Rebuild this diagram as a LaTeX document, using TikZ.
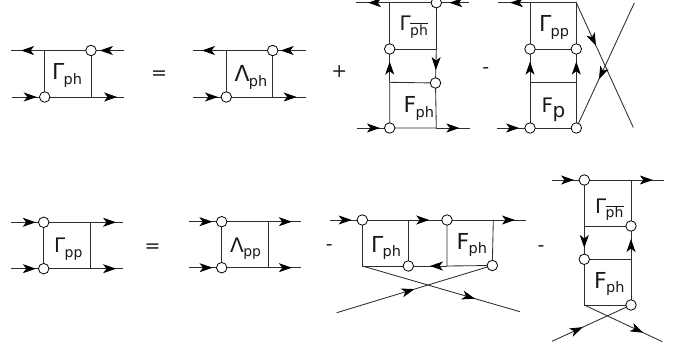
\documentclass[tikz,border=0pt]{standalone}
\usepackage{fontspec}
\setmainfont{DejaVu Sans}
\usetikzlibrary{arrows.meta,decorations.markings,backgrounds}
\newcommand{\gsym}[3][14]{{\fontsize{20}{20}\selectfont #2}\kern-0.6pt\raisebox{-4.5pt}{\fontsize{#1}{#1}\selectfont #3}}
\newcommand{\gbig}[2]{{\fontsize{22}{22}\selectfont #1}\kern-0.8pt\raisebox{-4.5pt}{\fontsize{14.5}{14.5}\selectfont #2}}
\newcommand{\phbar}{$\overline{\hbox{\fontsize{14}{14}\selectfont ph}}$}
\tikzset{
  ln/.style={draw=black!82,line width=0.85pt},
  marrow/.style={postaction={decorate},decoration={markings,mark=at position #1 with {\arrow[black]{Stealth[length=13pt,width=9pt,inset=3.5pt]}}}},
  vtx/.style={circle,draw=black,fill=white,line width=0.8pt,minimum size=10.5pt,inner sep=0pt},
  lab/.style={anchor=base west,inner sep=0pt,text=black!90},
  sgn/.style={inner sep=0pt,font=\fontsize{19}{19}\selectfont,text=black!85}
}
\begin{document}
\begin{tikzpicture}[x=1pt,y=-1pt]
\useasboundingbox (0,0) rectangle (696,350);
% --- vertices
\node[vtx] (a1) at (91,50.5) {};
\node[vtx] (a2) at (44.7,97) {};
\node[vtx] (b1) at (272.7,50.5) {};
\node[vtx] (b2) at (226.3,97) {};
\node[vtx] (c1) at (436.3,2.7) {};
\node[vtx] (c2) at (389.7,49) {};
\node[vtx] (c3) at (435.5,83) {};
\node[vtx] (c4) at (389.7,128) {};
\node[vtx] (d1) at (530,49) {};
\node[vtx] (d2) at (576.3,49) {};
\node[vtx] (d3) at (530,128) {};
\node[vtx] (d4) at (576.3,128) {};
\node[vtx] (e1) at (43.7,222.3) {};
\node[vtx] (e2) at (43.7,268.7) {};
\node[vtx] (f1) at (221.7,221.7) {};
\node[vtx] (f2) at (221.7,267.7) {};
\node[vtx] (g1) at (362.3,220) {};
\node[vtx] (g2) at (447,220) {};
\node[vtx] (g3) at (408.3,266) {};
\node[vtx] (g4) at (492.3,265.5) {};
\node[vtx] (h1) at (584.3,180) {};
\node[vtx] (h2) at (631,226) {};
\node[vtx] (h3) at (584.3,259.3) {};
\node[vtx] (h4) at (631,305) {};
% --- corners and free ends
\coordinate (a3) at (44.7,50.5); \coordinate (a4) at (91,97);
\coordinate (aL1) at (11,50.5); \coordinate (aR1) at (124,50.5);
\coordinate (aL2) at (11.5,97); \coordinate (aR2) at (124,97);
\coordinate (b3) at (226.3,50.5); \coordinate (b4) at (272.7,97);
\coordinate (bL1) at (193,50.5); \coordinate (bR1) at (306,50.5);
\coordinate (bL2) at (193,97); \coordinate (bR2) at (306,97);
\coordinate (c5) at (389.7,2.7); \coordinate (c6) at (436.3,49);
\coordinate (c7) at (389.7,82.3); \coordinate (c8) at (436.3,128);
\coordinate (cL1) at (356,2.7); \coordinate (cR1) at (469,2.7);
\coordinate (cL2) at (357,128); \coordinate (cR2) at (469.7,128);
\coordinate (d5) at (530,2.7); \coordinate (d6) at (576.3,2.7);
\coordinate (d7) at (530,82.3); \coordinate (d8) at (576.3,82.3);
\coordinate (dL1) at (498,2.7); \coordinate (dL2) at (497,128);
\coordinate (dX1) at (633.3,127.5); \coordinate (dX2) at (634.3,3);
\coordinate (e3) at (90,222.3); \coordinate (e4) at (90,268.7);
\coordinate (eL1) at (10.5,222.3); \coordinate (eL2) at (11,268.7);
\coordinate (eR1) at (123,222.3); \coordinate (eR2) at (123,268.7);
\coordinate (f3) at (268.3,221.7); \coordinate (f4) at (268.3,267.7);
\coordinate (fL1) at (188.5,221.7); \coordinate (fL2) at (189,267.7);
\coordinate (fR1) at (301,221.7); \coordinate (fR2) at (301,267.7);
\coordinate (g5) at (408.3,220); \coordinate (g6) at (493.3,220);
\coordinate (g7) at (362.3,266); \coordinate (g8) at (447,266);
\coordinate (gL) at (330,220); \coordinate (gR) at (526,220);
\coordinate (gX1) at (336.7,312.7); \coordinate (gX2) at (520,311.7);
\coordinate (h5) at (631,180); \coordinate (h6) at (584.3,226);
\coordinate (h7) at (631,259.3); \coordinate (h8) at (584.3,305);
\coordinate (hL) at (552.3,180); \coordinate (hR) at (664,180);
\coordinate (hX1) at (552,341.3); \coordinate (hX2) at (662.3,341.7);
% --- connectors, under the vertices
\begin{scope}[on background layer]
\fill[white] (0,0) rectangle (696,350);
% row 1, first
\draw[ln] (a3.center) -- (a1.center) -- (a4) -- (a2.center) -- cycle;
\draw[ln,marrow=.70] (a3) -- (aL1);
\draw[ln,marrow=.73] (aR1) -- (a1.center);
\draw[ln,marrow=.76] (aL2) -- (a2.center);
\draw[ln,marrow=.79] (a4) -- (aR2);
% row 1, second
\draw[ln] (b3) -- (b1.center) -- (b4) -- (b2.center) -- cycle;
\draw[ln,marrow=.73] (b3) -- (bL1);
\draw[ln,marrow=.76] (bR1) -- (b1.center);
\draw[ln,marrow=.75] (bL2) -- (b2.center);
\draw[ln,marrow=.72] (b4) -- (bR2);
% row 1, third
\draw[ln] (c5) -- (c1.center) -- (c6) -- (c2.center) -- cycle;
\draw[ln] (c7) -- (c3.center) -- (c8) -- (c4.center) -- cycle;
\draw[ln,marrow=.64] (c5) -- (cL1);
\draw[ln,marrow=.60] (cR1) -- (c1.center);
\draw[ln,marrow=.70] (cL2) -- (c4.center);
\draw[ln,marrow=.69] (c8) -- (cR2);
\draw[ln,marrow=.62] (c7) -- (c2.center);
\draw[ln,marrow=.62] (c6) -- (c3.center);
% row 1, fourth
\draw[ln] (d5) -- (d6) -- (d2.center) -- (d1.center) -- cycle;
\draw[ln] (d7) -- (d8) -- (d4.center) -- (d3.center) -- cycle;
\draw[ln,marrow=.625] (d5) -- (dL1);
\draw[ln,marrow=.67] (dL2) -- (d3.center);
\draw[ln,marrow=.62] (d7) -- (d1.center);
\draw[ln,marrow=.62] (d8) -- (d2.center);
\draw[ln,marrow=.345] (d6) -- (dX1);
\draw[ln,marrow=.61] (dX2) -- (d4.center);
% row 2, first
\draw[ln] (e1.center) -- (e3) -- (e4) -- (e2.center) -- cycle;
\draw[ln,marrow=.76] (eL1) -- (e1.center);
\draw[ln,marrow=.76] (eL2) -- (e2.center);
\draw[ln,marrow=.79] (e3) -- (eR1);
\draw[ln,marrow=.79] (e4) -- (eR2);
% row 2, second
\draw[ln] (f1.center) -- (f3) -- (f4) -- (f2.center) -- cycle;
\draw[ln,marrow=.72] (fL1) -- (f1.center);
\draw[ln,marrow=.72] (fL2) -- (f2.center);
\draw[ln,marrow=.72] (f3) -- (fR1);
\draw[ln,marrow=.72] (f4) -- (fR2);
% row 2, third
\draw[ln] (g5) -- (g3.center) -- (g7) -- (g1.center);
\draw[ln] (g6) -- (g4.center) -- (g8) -- (g2.center);
\draw[ln,marrow=.67] (gL) -- (g1.center);
\draw[ln,marrow=.79] (g1.center) -- (g2.center);
\draw[ln,marrow=.86] (g2.center) -- (gR);
\draw[ln,marrow=.44] (g8) -- (g3.center);
\draw[ln,marrow=.50] (gX1) -- (g4.center);
\draw[ln,marrow=.715] (g7) -- (gX2);
% row 2, fourth
\draw[ln] (h1.center) -- (h5) -- (h2.center) -- (h6) -- cycle;
\draw[ln] (h3.center) -- (h7) -- (h4.center) -- (h8) -- cycle;
\draw[ln,marrow=.68] (hL) -- (h1.center);
\draw[ln,marrow=.86] (h1.center) -- (hR);
\draw[ln,marrow=.66] (h6) -- (h3.center);
\draw[ln,marrow=.61] (h7) -- (h2.center);
\draw[ln,marrow=.39] (hX1) -- (h4.center);
\draw[ln,marrow=.756] (h8) -- (hX2);
\end{scope}
% --- labels
\node[lab] (la) at (52,80) {\gbig{Γ}{ph}};
\node[lab] (lb) at (234.5,82) {\gbig{Λ}{ph}};
\node[lab] (lc1) at (399.5,30.7) {\gsym{Γ}{\phbar}};
\node[lab] (lc2) at (403.5,113) {\gbig{F}{ph}};
\node[lab] (ld1) at (539,31.7) {\gbig{Γ}{pp}};
\node[lab] (ld2) at (541.5,113) {\gsym[20]{F}{p}};
\node[lab] (le) at (54,252.7) {\gsym{Γ}{pp}};
\node[lab] (lf) at (230,252.3) {\gsym{Λ}{pp}};
\node[lab] (lg1) at (371,252.3) {\gbig{Γ}{ph}};
\node[lab] (lg2) at (456.5,249.3) {\gbig{F}{ph}};
\node[lab] (lh1) at (595,213.3) {\gsym{Γ}{\phbar}};
\node[lab] (lh2) at (594,288.3) {\gbig{F}{ph}};
% --- signs
\node[sgn] (s1) at (159,75) {=};
\node[sgn] (s2) at (339.3,71.7) {+};
\node[sgn] (s3) at (485.7,71) {-};
\node[sgn] (s4) at (152.7,247.7) {=};
\node[sgn] (s5) at (329.3,247.3) {-};
\node[sgn] (s6) at (541,248.7) {-};
\end{tikzpicture}
\end{document}
